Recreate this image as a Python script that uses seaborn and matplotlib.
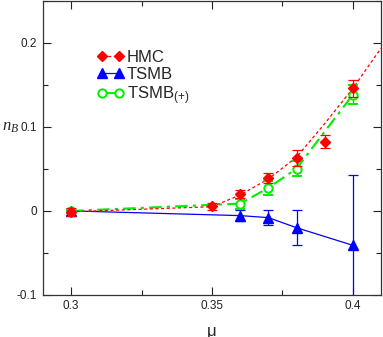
import matplotlib
matplotlib.use('Agg')
import matplotlib.pyplot as plt
from matplotlib.lines import Line2D
from matplotlib.ticker import MultipleLocator
import seaborn as sns
import pandas as pd

# data
mu_hmc = [0.30, 0.35, 0.36, 0.37, 0.38, 0.39, 0.40]
nb_hmc = [-0.001, 0.0055, 0.0205, 0.039, 0.0625, 0.0825, 0.146]
err_hmc = [0.005, 0.0044, 0.005, 0.006, 0.0095, 0.008, 0.010]

# dashed fit curve through the HMC points
mu_fit = [0.30, 0.35, 0.36, 0.37, 0.38, 0.39, 0.40, 0.41]
nb_fit = [-0.001, 0.005, 0.019, 0.038, 0.064, 0.104, 0.146, 0.194]

mu_tsmb = [0.30, 0.36, 0.37, 0.38, 0.40]
nb_tsmb = [0.0, -0.0056, -0.008, -0.020, -0.041]
err_tsmb = [0.001, 0.007, 0.009, 0.021, 0.084]

mu_plus = [0.30, 0.36, 0.37, 0.38, 0.40]
nb_plus = [0.0, 0.0087, 0.0274, 0.0504, 0.1385]
err_plus = [0.002, 0.006, 0.008, 0.009, 0.011]

RED = '#ff0000'
BLUE = '#0000ff'
GREEN = '#00ee00'

sns.set_style('ticks')
plt.rcParams['font.family'] = ['Liberation Sans', 'DejaVu Sans']
plt.rcParams['mathtext.fontset'] = 'custom'
plt.rcParams['mathtext.rm'] = 'Liberation Sans'
plt.rcParams['mathtext.it'] = 'Liberation Serif:italic'

fig = plt.figure(figsize=(3.83, 3.37), dpi=100)
ax = fig.add_axes([0.112, 0.125, 0.883, 0.872])

df_fit = pd.DataFrame({'mu': mu_fit, 'nb': nb_fit})
df_tsmb = pd.DataFrame({'mu': mu_tsmb, 'nb': nb_tsmb})
df_plus = pd.DataFrame({'mu': mu_plus, 'nb': nb_plus})

sns.lineplot(data=df_tsmb, x='mu', y='nb', ax=ax, color=BLUE, lw=0.9, sort=False)
sns.lineplot(data=df_plus, x='mu', y='nb', ax=ax, color=GREEN, lw=1.5, sort=False,
             linestyle=(0, (6, 2.5, 1.5, 2.5)))
sns.lineplot(data=df_fit, x='mu', y='nb', ax=ax, color=RED, lw=0.9, sort=False,
             linestyle=(0, (2.5, 2)))

ax.errorbar(mu_tsmb, nb_tsmb, yerr=err_tsmb, fmt='^', color=BLUE, ms=6.5,
            ecolor=BLUE, elinewidth=0.9, capsize=3.5, capthick=0.9, zorder=3)
ax.errorbar(mu_plus, nb_plus, yerr=err_plus, fmt='o', color=GREEN, ms=6,
            mfc='white', mec=GREEN, mew=1.4,
            ecolor=GREEN, elinewidth=1.0, capsize=3.5, capthick=1.0, zorder=3)
ax.errorbar(mu_hmc, nb_hmc, yerr=err_hmc, fmt='D', color=RED, ms=5,
            ecolor=RED, elinewidth=0.9, capsize=3.5, capthick=0.9, zorder=4)

ax.set_xlim(0.29, 0.41)
ax.set_ylim(-0.1, 0.25)
ax.xaxis.set_major_locator(MultipleLocator(0.05))
ax.xaxis.set_minor_locator(MultipleLocator(0.025))
ax.yaxis.set_major_locator(MultipleLocator(0.1))
ax.yaxis.set_minor_locator(MultipleLocator(0.05))
ax.xaxis.set_major_formatter(plt.FuncFormatter(lambda v, p: f'{v:g}'))
ax.yaxis.set_major_formatter(plt.FuncFormatter(lambda v, p: f'{v:g}' if abs(v) > 1e-9 else '0'))

ax.tick_params(which='both', direction='in', top=True, right=True,
               labelsize=8.5, colors='#222222', pad=4)
ax.tick_params(which='major', length=6, width=0.8)
ax.tick_params(which='minor', length=3.5, width=0.8)
for s in ax.spines.values():
    s.set_linewidth(0.9)
    s.set_color('#333333')

ax.set_xlabel('μ', fontsize=12, labelpad=8)
ax.set_ylabel(r'$n_B$', fontsize=12, rotation=0, va='center', ha='center')
ax.yaxis.set_label_coords(-0.097, 0.57)

handles = [
    Line2D([], [], color=RED, ls=(0, (2.5, 2)), lw=0.9, marker='D', ms=5),
    Line2D([], [], color=BLUE, lw=0.9, marker='^', ms=6.5),
    Line2D([], [], color=GREEN, lw=1.5, marker='o', ms=6, mfc='white', mew=1.4),
]
labels = ['HMC', 'TSMB', r'TSMB$\mathrm{_{(+)}}$']
ax.legend(handles, labels, loc='upper left', bbox_to_anchor=(0.14, 0.855),
          frameon=False, numpoints=2, fontsize=12, handlelength=1.6,
          handletextpad=0.2, labelspacing=0.12, borderaxespad=0)

fig.savefig('out.png', dpi=100)
